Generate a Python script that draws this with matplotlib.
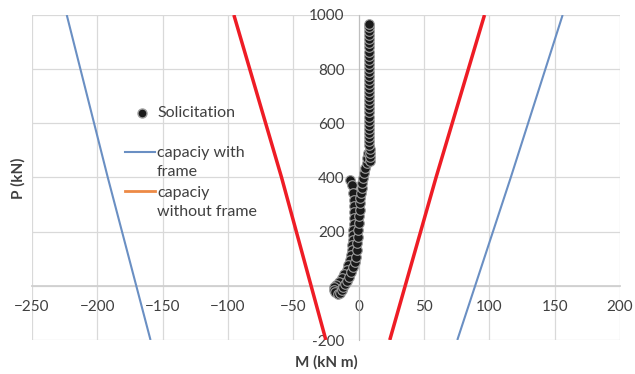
import matplotlib
matplotlib.use("Agg")
import matplotlib.pyplot as plt
from matplotlib.lines import Line2D

plt.rcParams['font.family'] = ['Lato', 'DejaVu Sans']

# capacity curves (M in kN m at the given P in kN)
cap_P = [-200, 400, 1000]
with_frame_left = [-159.3, -192.0, -223.4]
with_frame_right = [75.5, 116.4, 156.1]
without_frame_left = [-25.1, -59.0, -95.5]
without_frame_right = [23.8, 59.2, 96.3]

# solicitation points (M, P)
sol_M = [-6.7, -5, -4.2, -3.6, -3.4, -3.4, -3.6, -3.8, -4.2, -4.2, -4.2, -4.8, -5.4, -6, -6.7,
         -8, -9.3, -11, -13, -15, -17, -18.5, -19, -18, -16, -14, -13, -12, -10.6, -9, -7.5,
         -5.8, -4.2, -3, -2.1, -1.6, -1.1, -0.7, -0.4, 0, 0.4, 0.7, 0.9, 1.3, 1.7, 2.2, 2.7,
         3.4, 4.2, 5, 6, 6.7, 7.3,
         9, 8.8, 8.6, 8.4, 8.2, 8.1, 8, 7.9, 7.8, 7.8, 7.7, 7.7, 7.6, 7.6, 7.6, 7.6, 7.6, 7.7,
         7.7, 7.7, 7.8, 7.8, 7.8, 7.9, 7.9, 7.9, 7.9, 7.9, 7.9, 7.9, 7.9, 7.9, 7.9, 7.9, 7.8]
sol_P = [391, 373, 342, 318, 295, 272, 250, 228, 207, 188, 170, 151, 133, 114, 96,
         78, 59, 43, 28, 15, 4, -6, -15, -24, -30, -26, -16, -6, 5, 18, 32,
         50, 69, 88, 108, 132, 157, 182, 207, 231, 256, 281, 306, 325, 343, 361, 379,
         398, 416, 435, 453, 472, 490,
         462, 476, 491, 505, 520, 535, 550, 565, 580, 595, 610, 625, 640, 655, 670, 685, 700, 715,
         730, 745, 760, 775, 790, 805, 820, 835, 850, 865, 880, 895, 910, 925, 940, 955, 965]

x_ticks = [-250, -200, -150, -100, -50, 0, 50, 100, 150, 200]
y_ticks = [-200, 0, 200, 400, 600, 800, 1000]
y_labels = ['-200', '', '200', '400', '600', '800', '1000']

blue = '#6a8fc3'
red = '#ee1c25'
orange = '#ed8a45'
txt = '#404040'
W, H = 635, 374

fig = plt.figure(figsize=(6.35, 3.74), dpi=100)
ax = fig.add_axes([32 / W, 34 / H, 588 / W, 325 / H])

for x_vals in (with_frame_left, with_frame_right):
    ax.plot(x_vals, cap_P, color=blue, lw=1.5, solid_capstyle='butt', zorder=3)
for x_vals in (without_frame_left, without_frame_right):
    ax.plot(x_vals, cap_P, color=red, lw=2.5, solid_capstyle='butt', zorder=3)

ax.scatter(sol_M, sol_P, s=48, color='#1a1a1a', edgecolors='#9e9e9e', linewidths=0.8, zorder=4)

ax.set_xlim(-250, 200)
ax.set_ylim(-200, 1000)
ax.set_xticks(x_ticks)
ax.set_yticks(y_ticks)
ax.set_yticklabels(y_labels)
ax.grid(True, color='#d9d9d9', lw=0.9, zorder=0)
ax.set_axisbelow(True)

ax.spines['left'].set_position(('data', 0))
ax.spines['bottom'].set_position(('data', 0))
ax.spines['left'].set_color('#bfbfbf')
ax.spines['bottom'].set_color('#d0d0d0')
ax.spines['bottom'].set_linewidth(1.3)
ax.spines['top'].set_visible(False)
ax.spines['right'].set_visible(False)
ax.tick_params(axis='both', length=0, labelsize=11, labelcolor=txt)
ax.tick_params(axis='x', pad=10)
ax.tick_params(axis='y', pad=10)

fig.text(326 / W, 1 - 362 / H, 'M (kN m)', ha='center', va='center',
         fontsize=11, fontweight='bold', color=txt)
fig.text(18 / W, 1 - 178 / H, 'P (kN)', ha='center', va='center', rotation=90,
         fontsize=11, fontweight='bold', color=txt)

# legend drawn by hand to follow the Excel layout
fig.add_artist(Line2D([142 / W], [1 - 113 / H], marker='o', markersize=6.5,
                      color='#1a1a1a', markeredgecolor='#9e9e9e', lw=0))
fig.add_artist(Line2D([125 / W, 155 / W], [1 - 152 / H] * 2, color=blue, lw=1.5))
fig.add_artist(Line2D([125 / W, 155 / W], [1 - 191 / H] * 2, color=orange, lw=2))
leg_font = dict(ha='left', va='center', fontsize=11.5, color=txt)
fig.text(157 / W, 1 - 113 / H, 'Solicitation', **leg_font)
fig.text(157 / W, 1 - 153 / H, 'capaciy with', **leg_font)
fig.text(157 / W, 1 - 172 / H, 'frame', **leg_font)
fig.text(157 / W, 1 - 193 / H, 'capaciy', **leg_font)
fig.text(157 / W, 1 - 212 / H, 'without frame', **leg_font)

fig.savefig('out.png', dpi=100)
